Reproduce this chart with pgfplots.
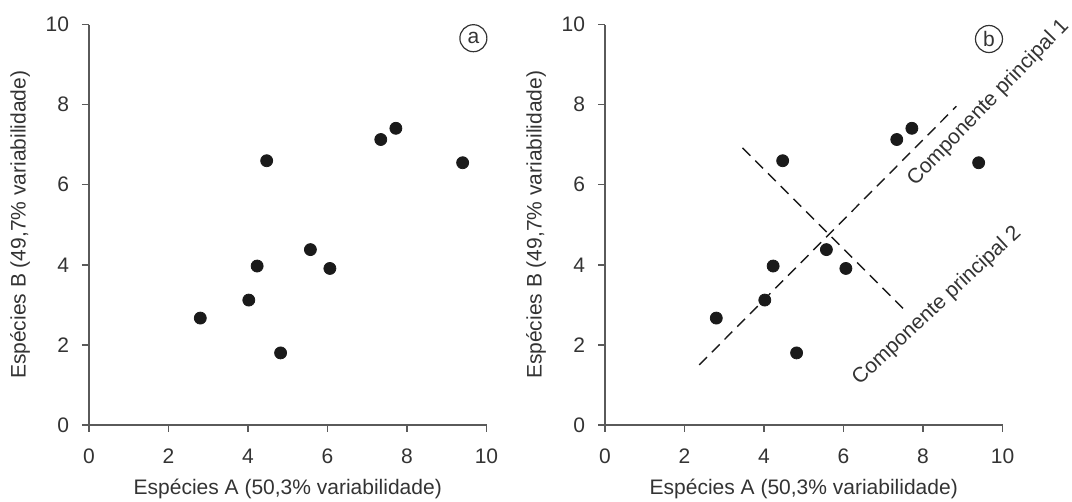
\documentclass[border=0pt]{standalone}
\usepackage{pgfplots}
\pgfplotsset{compat=1.18}
\usepackage{fontspec}
\setmainfont{Liberation Sans}
\definecolor{axisgray}{HTML}{5A5A5A}
\definecolor{txt}{HTML}{333333}
\definecolor{dot}{HTML}{1A1A1A}

\pgfplotsset{
  panel/.style={
    scale only axis,
    width=198.75pt, height=200.2pt,
    xmin=0, xmax=10, ymin=0, ymax=10,
    axis lines*=left,
    axis line style={axisgray, line width=0.7pt},
    xtick={0,2,...,10}, ytick={0,2,...,10},
    tick style={axisgray, line width=0.7pt},
    tick align=outside, major tick length=3.5pt,
    /pgf/number format/assume math mode=true,
    font=\fontsize{10.5}{12}\selectfont,
    tick label style={txt},
    xticklabel style={yshift=-5pt},
    yticklabel style={xshift=-3pt},
    xlabel={Espécies A (50,3\% variabilidade)},
    ylabel={Espécies B (49,7\% variabilidade)},
    every axis x label/.style={at={(axis description cs:0.5,-0.16)}, anchor=center, txt},
    every axis y label/.style={at={(axis description cs:-0.1736,0.5)}, anchor=center, rotate=90, txt},
    clip=false,
  },
  pts/.style={only marks, mark=*, mark size=3pt, mark options={fill=dot, draw=dot}},
  pc/.style={dot, line width=0.7pt, dash pattern=on 5.5pt off 3.5pt},
}

\pgfplotstableread{
x y
2.80 2.67
4.02 3.12
4.23 3.97
4.82 1.80
4.47 6.60
5.57 4.38
6.06 3.91
7.34 7.13
7.72 7.41
9.40 6.55
}\speciesdata

\begin{document}
\begin{tikzpicture}
\begin{axis}[panel, at={(44.5pt,38.5pt)}, anchor=origin]
\addplot[pts] table {\speciesdata};
\node[circle, draw=txt, line width=0.6pt, minimum size=13.5pt, inner sep=0pt, txt] at (axis cs:9.67,9.66) {a};
\end{axis}

\begin{axis}[panel, at={(302.5pt,38.5pt)}, anchor=origin]
\addplot[pts] table {\speciesdata};
\addplot[pc] coordinates {(2.37,1.50) (8.84,7.96)};
\addplot[pc] coordinates {(3.46,6.92) (7.52,2.89)};
\node[circle, draw=txt, line width=0.6pt, minimum size=13.5pt, inner sep=0pt, txt] at (axis cs:9.66,9.64) {b};
\node[anchor=base west, rotate=46, inner sep=0pt, txt] at (axis cs:7.80,5.95) {Componente principal 1};
\node[anchor=base west, rotate=43, inner sep=0pt, txt] at (axis cs:6.40,0.98) {Componente principal 2};
\end{axis}

\pgfresetboundingbox
\path[use as bounding box] (0,0) rectangle (536pt,251pt);
\end{tikzpicture}
\end{document}
